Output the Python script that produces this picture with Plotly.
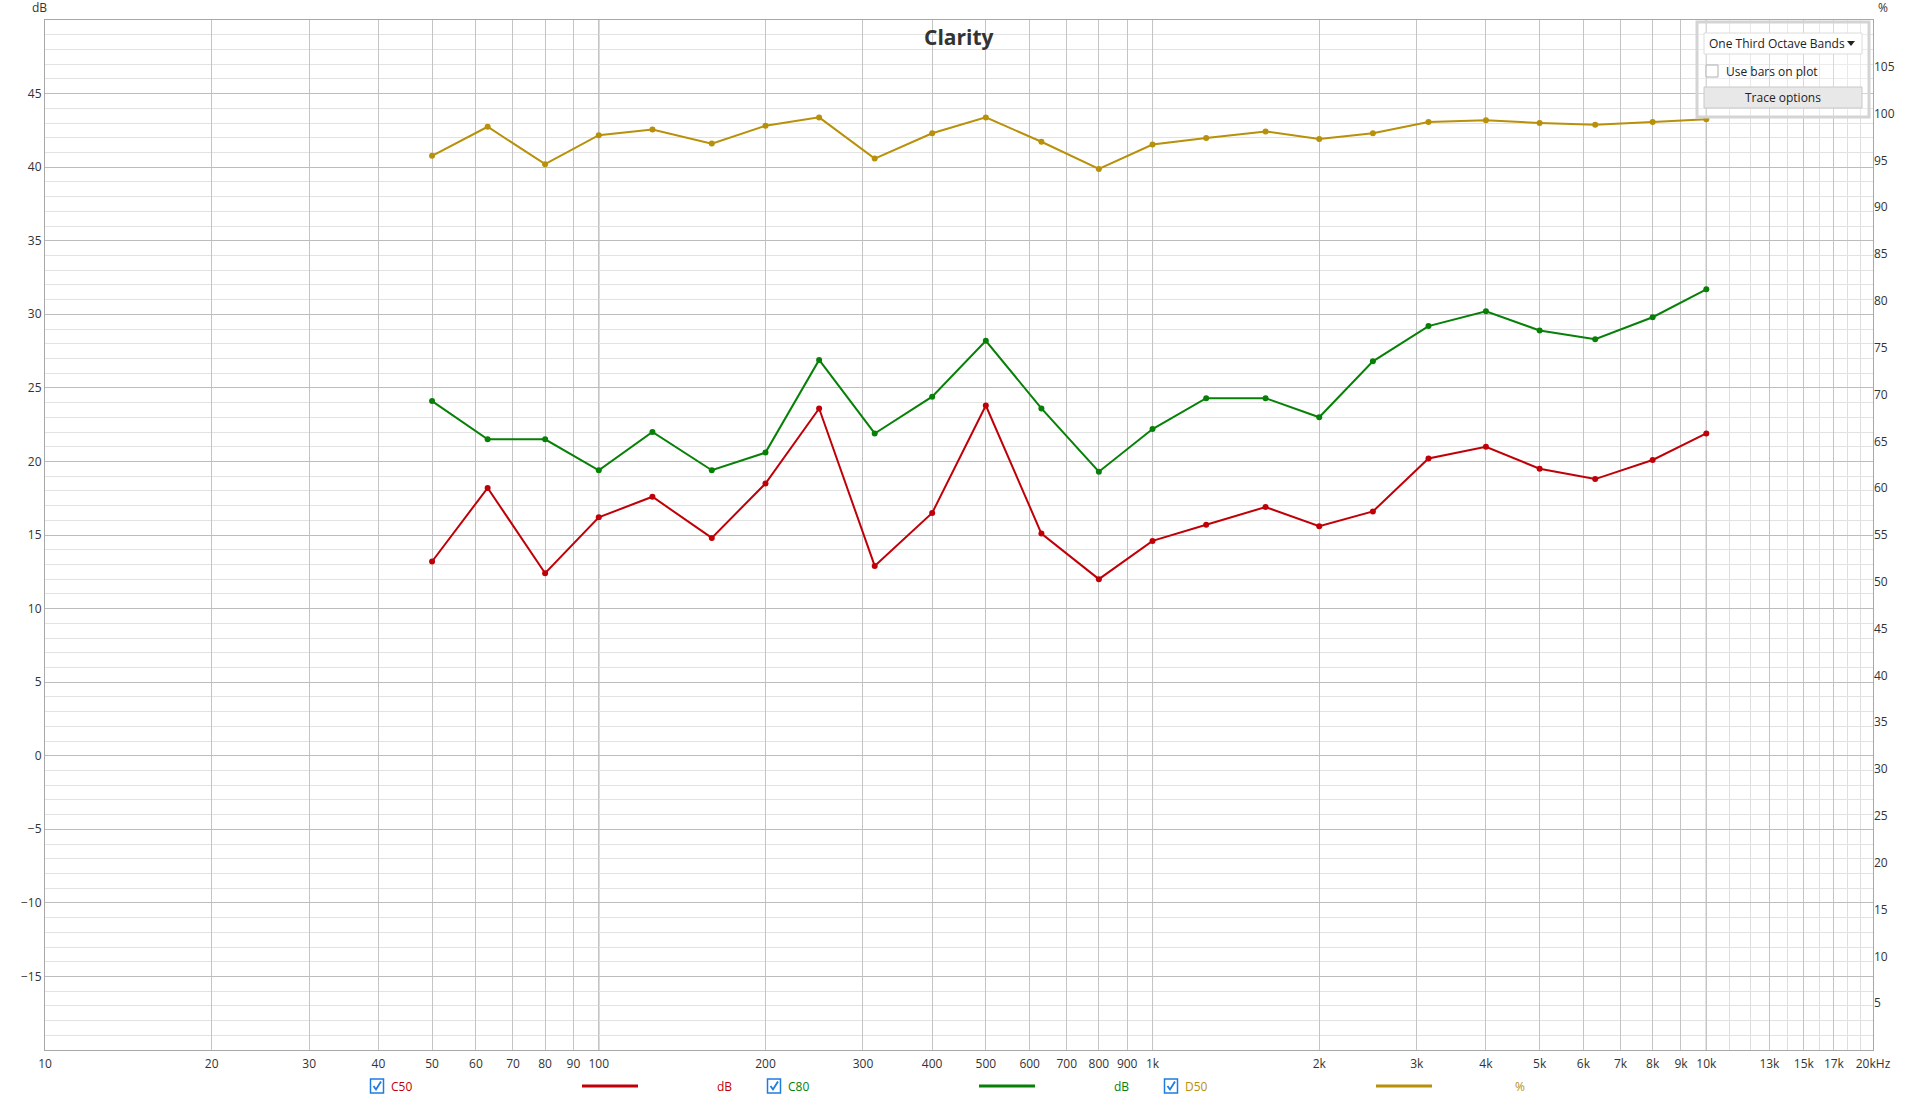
import plotly.graph_objects as go

# one-third octave band centres (Hz)
freqs = [50, 63, 80, 100, 125, 160, 200, 250, 315, 400, 500, 630, 800,
         1000, 1250, 1600, 2000, 2500, 3150, 4000, 5000, 6300, 8000, 10000]

# clarity values
c50_db = [13.2, 18.2, 12.4, 16.2, 17.6, 14.8, 18.5, 23.6, 12.9, 16.5, 23.8, 15.1, 12.0,
          14.6, 15.7, 16.9, 15.6, 16.6, 20.2, 21.0, 19.5, 18.8, 20.1, 21.9]
c80_db = [24.1, 21.5, 21.5, 19.4, 22.0, 19.4, 20.6, 26.9, 21.9, 24.4, 28.2, 23.6, 19.3,
          22.2, 24.3, 24.3, 23.0, 26.8, 29.2, 30.2, 28.9, 28.3, 29.8, 31.7]
d50_pct = [95.5, 98.6, 94.6, 97.7, 98.3, 96.8, 98.7, 99.6, 95.2, 97.9, 99.6, 97.0, 94.1,
           96.7, 97.4, 98.1, 97.3, 97.9, 99.1, 99.3, 99.0, 98.8, 99.1, 99.4]

# x axis labels
x_tickvals = [10, 20, 30, 40, 50, 60, 70, 80, 90,
              100, 200, 300, 400, 500, 600, 700, 800, 900,
              1000, 2000, 3000, 4000, 5000, 6000, 7000, 8000, 9000,
              10000, 13000, 15000, 17000, 20000]
x_ticktext = ["10", "20", "30", "40", "50", "60", "70", "80", "90",
              "100", "200", "300", "400", "500", "600", "700", "800", "900",
              "1k", "2k", "3k", "4k", "5k", "6k", "7k", "8k", "9k",
              "10k", "13k", "15k", "17k", "20kHz"]
x_minor = [11000, 12000, 14000, 16000, 18000, 19000]
y_left_ticks = list(range(-15, 50, 5))
y_right_ticks = list(range(5, 110, 5))

RED = "#c00008"
GREEN = "#078007"
GOLD = "#b8900a"
FONT = "Open Sans"
TXT = "#333333"

W, H = 1920, 1098
L, R, T, B = 45, 1873, 20, 1050  # plot area in pixels


def px(x):
    return (x - L) / (R - L)


def py(y):
    return (B - y) / (B - T)


fig = go.Figure()
fig.add_trace(go.Scatter(x=freqs, y=c50_db, mode="lines+markers", name="C50",
                         line=dict(color=RED, width=2), marker=dict(size=6, color=RED)))
fig.add_trace(go.Scatter(x=freqs, y=c80_db, mode="lines+markers", name="C80",
                         line=dict(color=GREEN, width=2), marker=dict(size=6, color=GREEN)))
fig.add_trace(go.Scatter(x=freqs, y=d50_pct, mode="lines+markers", name="D50", yaxis="y2",
                         line=dict(color=GOLD, width=2), marker=dict(size=6, color=GOLD)))

shapes = []
# darker decade lines, drawn over the grid but under the traces
for d in [100, 1000, 10000]:
    shapes.append(dict(type="line", xref="x", yref="paper", x0=d, x1=d, y0=0, y1=1,
                       line=dict(color="#7a7a7a", width=1), layer="between"))

annotations = [
    dict(text="Clarity", x=0.5, y=py(37), xref="paper", yref="paper", showarrow=False,
         font=dict(family=FONT, size=21, color=TXT, weight="bold"), yanchor="middle"),
    dict(text="dB", x=px(30), y=py(8), xref="paper", yref="paper", showarrow=False,
         xanchor="left", yanchor="middle", font=dict(family=FONT, size=12, color=TXT)),
    dict(text="%", x=px(1876), y=py(8), xref="paper", yref="paper", showarrow=False,
         xanchor="left", yanchor="middle", font=dict(family=FONT, size=12, color=TXT)),
]

# control panel, top right
shapes.append(dict(type="rect", xref="paper", yref="paper", x0=px(1697), x1=px(1869),
                   y0=py(117), y1=py(22), line=dict(color="#d4d4d4", width=3),
                   fillcolor="rgba(255,255,255,0.35)"))
shapes.append(dict(type="rect", xref="paper", yref="paper", x0=px(1704), x1=px(1862),
                   y0=py(54), y1=py(33), line=dict(color="#dcdcdc", width=1), fillcolor="white"))
shapes.append(dict(type="path", xref="paper", yref="paper",
                   path="M %f,%f L %f,%f L %f,%f Z" % (px(1847), py(41), px(1855), py(41), px(1851), py(46)),
                   fillcolor="#222", line=dict(width=0)))
shapes.append(dict(type="rect", xref="paper", yref="paper", x0=px(1706), x1=px(1718),
                   y0=py(77), y1=py(65), line=dict(color="#b0b0b0", width=1), fillcolor="white"))
shapes.append(dict(type="rect", xref="paper", yref="paper", x0=px(1704), x1=px(1862),
                   y0=py(108), y1=py(87), line=dict(color="#c8c8c8", width=1), fillcolor="#e8e8e8"))
annotations += [
    dict(text="One Third Octave Bands", x=px(1707), y=py(44), xref="paper", yref="paper",
         showarrow=False, xanchor="left", yanchor="middle", font=dict(family=FONT, size=12, color="#222")),
    dict(text="Use bars on plot", x=px(1724), y=py(71), xref="paper", yref="paper",
         showarrow=False, xanchor="left", yanchor="middle", font=dict(family=FONT, size=12, color="#222")),
    dict(text="Trace options", x=px(1783), y=py(98), xref="paper", yref="paper",
         showarrow=False, xanchor="center", yanchor="middle", font=dict(family=FONT, size=12, color="#222")),
]

# bottom legend
LY = 1086
legend_items = [
    ("C50", RED, 377, 582, 715, "dB"),
    ("C80", GREEN, 774, 979, 1112, "dB"),
    ("D50", GOLD, 1171, 1376, 1513, "%"),
]
for name, col, cbx, lx, ux, unit in legend_items:
    shapes.append(dict(type="rect", xref="paper", yref="paper", x0=px(cbx - 6.5), x1=px(cbx + 6.5),
                       y0=py(LY + 7), y1=py(LY - 7), line=dict(color="#1e7be0", width=1.5),
                       fillcolor="white"))
    shapes.append(dict(type="path", xref="paper", yref="paper",
                       path="M %f,%f L %f,%f L %f,%f" % (px(cbx - 3.5), py(LY), px(cbx - 1), py(LY + 3.5),
                                                         px(cbx + 4), py(LY - 4.5)),
                       line=dict(color="#1e7be0", width=1.8)))
    shapes.append(dict(type="line", xref="paper", yref="paper", x0=px(lx), x1=px(lx + 56),
                       y0=py(LY), y1=py(LY), line=dict(color=col, width=3)))
    annotations.append(dict(text=name, x=px(cbx + 12), y=py(LY), xref="paper", yref="paper",
                            showarrow=False, xanchor="left", yanchor="middle",
                            font=dict(family=FONT, size=12, color=col)))
    annotations.append(dict(text=unit, x=px(ux), y=py(LY), xref="paper", yref="paper",
                            showarrow=False, xanchor="left", yanchor="middle",
                            font=dict(family=FONT, size=12, color=col)))

fig.update_layout(
    width=W, height=H,
    margin=dict(l=L, r=W - R, t=T, b=H - B),
    paper_bgcolor="white", plot_bgcolor="white",
    showlegend=False,
    font=dict(family=FONT, size=12, color=TXT),
    xaxis=dict(type="log", range=[1, 4.30103], tickmode="array", tickvals=x_tickvals,
               ticktext=x_ticktext, showgrid=True, gridcolor="#c4c4c4", gridwidth=1,
               showline=True, linecolor="#a8a8a8", mirror=True, ticks="", zeroline=False,
               ticklabelstandoff=3,
               minor=dict(tickvals=x_minor, showgrid=True, gridcolor="#dedede", ticks=""),
               tickfont=dict(family=FONT, size=12, color=TXT)),
    yaxis=dict(range=[-20, 50], tickmode="array", tickvals=y_left_ticks, showgrid=True,
               gridcolor="#bdbdbd", zeroline=False, showline=True, linecolor="#a8a8a8",
               mirror=True, ticks="",
               minor=dict(tickmode="linear", tick0=0, dtick=1, showgrid=True, gridcolor="#e2e2e2", ticks=""),
               tickfont=dict(family=FONT, size=12, color=TXT)),
    yaxis2=dict(range=[0, 110], overlaying="y", side="right", tickmode="array",
                tickvals=y_right_ticks, showgrid=False, zeroline=False, ticks="",
                tickfont=dict(family=FONT, size=12, color=TXT)),
    shapes=shapes,
    annotations=annotations,
)

# drop the default page margin so the 1920x1098 figure fills the window exactly
fig.write_html("out.html", config={"displayModeBar": False},
               post_script="document.body.style.margin='0';document.body.style.overflow='hidden';")
